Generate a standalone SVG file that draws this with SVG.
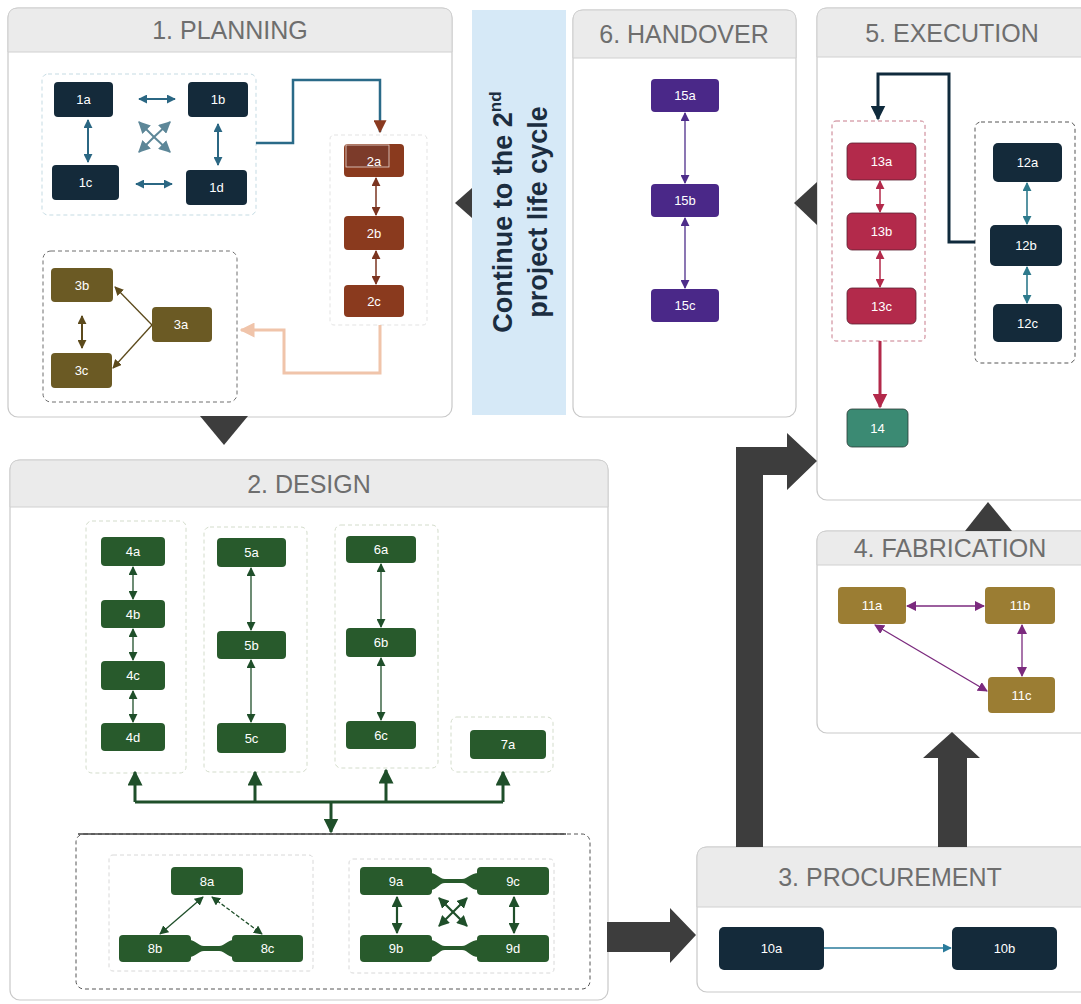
<svg xmlns="http://www.w3.org/2000/svg" width="1081" height="1004" viewBox="0 0 1081 1004">
<style>
.panel{fill:#fff;stroke:#c9c9c9;stroke-width:1.2}
.hdr{fill:#ebebeb;stroke:#d0d0d0;stroke-width:1}
.title{font-family:"Liberation Sans",Arial,sans-serif;font-size:25px;fill:#6e6e6e;text-anchor:middle;dominant-baseline:central}
.lbl{font-family:"Liberation Sans",Arial,sans-serif;font-size:13px;fill:#fff;text-anchor:middle;dominant-baseline:central}
.grp{fill:none;stroke-dasharray:4 3;stroke-width:1}
.big{fill:#3d3d3d}
.nv{fill:#142a3a}
.rust{fill:#8a3a1e}
.ol{fill:#6b5a24}
.gr{fill:#285a2c}
.gold{fill:#9b7d33}
.pu{fill:#4a2888}
.cr{fill:#b32a4b;stroke:#5a2030;stroke-width:0.8}
.tl{fill:#3b8a73;stroke:#2a3a36;stroke-width:0.8}
.ban{font-family:"Liberation Sans",Arial,sans-serif;font-size:27px;font-weight:bold;fill:#1b2d40;text-anchor:middle}
</style>
<defs>
<marker id="m1" viewBox="0 0 10 10" refX="9" refY="5" markerWidth="9" markerHeight="9" orient="auto-start-reverse" markerUnits="userSpaceOnUse"><path d="M0,0L10,5L0,10z" fill="#2b6783"/></marker>
<marker id="m1x" viewBox="0 0 10 10" refX="9" refY="5" markerWidth="12" markerHeight="12" orient="auto-start-reverse" markerUnits="userSpaceOnUse"><path d="M0,0L10,5L0,10z" fill="#5d8798"/></marker>
<marker id="mBr" viewBox="0 0 10 10" refX="9" refY="5" markerWidth="9" markerHeight="9" orient="auto-start-reverse" markerUnits="userSpaceOnUse"><path d="M0,0L10,5L0,10z" fill="#7b3420"/></marker>
<marker id="mBrBig" viewBox="0 0 10 10" refX="9" refY="5" markerWidth="13" markerHeight="13" orient="auto-start-reverse" markerUnits="userSpaceOnUse"><path d="M0,0L10,5L0,10z" fill="#8a3a20"/></marker>
<marker id="mPeach" viewBox="0 0 10 10" refX="9" refY="5" markerWidth="15" markerHeight="15" orient="auto-start-reverse" markerUnits="userSpaceOnUse"><path d="M0,0L10,5L0,10z" fill="#f0c4aa"/></marker>
<marker id="mOl" viewBox="0 0 10 10" refX="9" refY="5" markerWidth="9" markerHeight="9" orient="auto-start-reverse" markerUnits="userSpaceOnUse"><path d="M0,0L10,5L0,10z" fill="#5c4a1c"/></marker>
<marker id="mGr" viewBox="0 0 10 10" refX="9" refY="5" markerWidth="9" markerHeight="9" orient="auto-start-reverse" markerUnits="userSpaceOnUse"><path d="M0,0L10,5L0,10z" fill="#1f4f2a"/></marker>
<marker id="mGrBig" viewBox="0 0 10 10" refX="9" refY="5" markerWidth="15" markerHeight="15" orient="auto-start-reverse" markerUnits="userSpaceOnUse"><path d="M0,0L10,5L0,10z" fill="#1f4f2a"/></marker>
<marker id="mGrX" viewBox="0 0 10 10" refX="9" refY="5" markerWidth="11" markerHeight="11" orient="auto-start-reverse" markerUnits="userSpaceOnUse"><path d="M0,0L10,5L0,10z" fill="#1f4f2a"/></marker>
<marker id="mPu" viewBox="0 0 10 10" refX="9" refY="5" markerWidth="9" markerHeight="9" orient="auto-start-reverse" markerUnits="userSpaceOnUse"><path d="M0,0L10,5L0,10z" fill="#4e2d8a"/></marker>
<marker id="mCr" viewBox="0 0 10 10" refX="9" refY="5" markerWidth="9" markerHeight="9" orient="auto-start-reverse" markerUnits="userSpaceOnUse"><path d="M0,0L10,5L0,10z" fill="#b3294a"/></marker>
<marker id="mCrBig" viewBox="0 0 10 10" refX="9" refY="5" markerWidth="15" markerHeight="15" orient="auto-start-reverse" markerUnits="userSpaceOnUse"><path d="M0,0L10,5L0,10z" fill="#b3294a"/></marker>
<marker id="mNvBig" viewBox="0 0 10 10" refX="9" refY="5" markerWidth="15" markerHeight="15" orient="auto-start-reverse" markerUnits="userSpaceOnUse"><path d="M0,0L10,5L0,10z" fill="#0f2a3c"/></marker>
<marker id="mTl" viewBox="0 0 10 10" refX="9" refY="5" markerWidth="9" markerHeight="9" orient="auto-start-reverse" markerUnits="userSpaceOnUse"><path d="M0,0L10,5L0,10z" fill="#2e7a8c"/></marker>
<marker id="mMg" viewBox="0 0 10 10" refX="9" refY="5" markerWidth="10" markerHeight="10" orient="auto-start-reverse" markerUnits="userSpaceOnUse"><path d="M0,0L10,5L0,10z" fill="#7b2a7e"/></marker>
<marker id="mTb" viewBox="0 0 10 10" refX="9" refY="5" markerWidth="9" markerHeight="9" orient="auto-start-reverse" markerUnits="userSpaceOnUse"><path d="M0,0L10,5L0,10z" fill="#2a7b9b"/></marker>
</defs>
<rect width="1081" height="1004" fill="#fff"/>

<!-- Panels -->
<g id="panel-planning">
<rect class="panel" x="8" y="8" width="444" height="409" rx="10"/>
<path class="hdr" d="M8,52V18Q8,8 18,8H442Q452,8 452,18V52Z"/>
<text class="title" x="230" y="30">1. PLANNING</text>
</g>
<g id="panel-design">
<rect class="panel" x="10" y="460" width="598" height="540" rx="10"/>
<path class="hdr" d="M10,507V470Q10,460 20,460H598Q608,460 608,470V507Z"/>
<text class="title" x="309" y="484">2. DESIGN</text>
</g>
<g id="panel-handover">
<rect class="panel" x="573" y="10" width="223" height="407" rx="10"/>
<path class="hdr" d="M573,58V20Q573,10 583,10H786Q796,10 796,20V58Z"/>
<text class="title" x="684" y="34">6. HANDOVER</text>
</g>
<g id="panel-execution">
<rect class="panel" x="817" y="8" width="280" height="492" rx="10"/>
<path class="hdr" d="M817,57V18Q817,8 827,8H1097V57Z"/>
<text class="title" x="952" y="33">5. EXECUTION</text>
</g>
<g id="panel-fabrication">
<rect class="panel" x="817" y="531" width="280" height="202" rx="10"/>
<path class="hdr" d="M817,565V541Q817,531 827,531H1097V565Z"/>
<text class="title" x="950" y="548">4. FABRICATION</text>
</g>
<g id="panel-procurement">
<rect class="panel" x="697" y="847" width="400" height="145" rx="10"/>
<path class="hdr" d="M697,907V857Q697,847 707,847H1097V907Z"/>
<text class="title" x="890" y="877">3. PROCUREMENT</text>
</g>
<g id="banner">
<rect x="472" y="10" width="94" height="405" fill="#d6e9f7"/>
<text class="ban" transform="translate(512,212) rotate(-90)">Continue to the 2<tspan font-size="17" dy="-11">nd</tspan></text>
<text class="ban" transform="translate(547,212) rotate(-90)">project life cycle</text>
</g>

<!-- Group boxes -->
<g id="groups">
<rect class="grp" x="42" y="74" width="214" height="141" rx="6" stroke="#c5dbe3" fill="#fcfeff"/>
<rect class="grp" x="330" y="135" width="97" height="190" rx="4" stroke="#e3e3e3"/>
<rect class="grp" x="43" y="251" width="194" height="151" rx="8" stroke="#6e6e6e" fill="#fffefa"/>
<rect class="grp" x="86" y="521" width="100" height="252" rx="6" stroke="#d3dccb"/>
<rect class="grp" x="204" y="527" width="103" height="245" rx="6" stroke="#d3dccb"/>
<rect class="grp" x="335" y="525" width="103" height="243" rx="6" stroke="#d3dccb"/>
<rect class="grp" x="451" y="717" width="102" height="55" rx="6" stroke="#d3dccb"/>
<rect class="grp" x="76" y="834" width="514" height="155" rx="8" stroke="#555"/>
<line x1="78" y1="834" x2="566" y2="834" stroke="#444" stroke-width="1.3"/>
<rect class="grp" x="109" y="855" width="204" height="116" rx="4" stroke="#d8d8d8"/>
<rect class="grp" x="349" y="859" width="205" height="114" rx="4" stroke="#d8d8d8"/>
<rect class="grp" x="832" y="121" width="93" height="220" rx="4" stroke="#c77a8a"/>
<rect class="grp" x="975" y="122" width="100" height="241" rx="6" stroke="#555"/>
</g>

<!-- Big flow arrows -->
<g id="flow-arrows">
<polygon class="big" points="200,416 248,416 224,445"/>
<polygon class="big" points="472,188 472,218 455,203"/>
<polygon class="big" points="817,182 817,225 794,203"/>
<polygon class="big" points="965,531 1012,531 988,502"/>
<polygon class="big" points="938,847 967,847 967,758 980,758 952,732 923,758 938,758"/>
<polygon class="big" points="736,847 763,847 763,475 787,475 787,490 817,461 787,433 787,447 736,447"/>
<polygon class="big" points="607,922 670,922 670,908 696,935 670,963 670,952 607,952"/>
</g>

<!-- Connectors -->
<g id="connectors" fill="none">
<g stroke="#2b6783" stroke-width="2">
<line x1="139" y1="99" x2="175" y2="99" marker-start="url(#m1)" marker-end="url(#m1)"/>
<line x1="136" y1="184" x2="172" y2="184" marker-start="url(#m1)" marker-end="url(#m1)"/>
<line x1="88" y1="120" x2="88" y2="162" marker-start="url(#m1)" marker-end="url(#m1)"/>
<line x1="218" y1="124" x2="218" y2="165" marker-start="url(#m1)" marker-end="url(#m1)"/>
</g>
<g stroke="#5d8798" stroke-width="2">
<line x1="154" y1="137" x2="139" y2="122" marker-end="url(#m1x)"/>
<line x1="154" y1="137" x2="170" y2="122" marker-end="url(#m1x)"/>
<line x1="154" y1="137" x2="139" y2="152" marker-end="url(#m1x)"/>
<line x1="154" y1="137" x2="170" y2="152" marker-end="url(#m1x)"/>
</g>
<path d="M256,143H293V80H380V132" stroke="#2a6a88" stroke-width="2.5" marker-end="url(#mBrBig)"/>
<g stroke="#7b3420" stroke-width="1.5">
<line x1="376" y1="178" x2="376" y2="215" marker-start="url(#mBr)" marker-end="url(#mBr)"/>
<line x1="376" y1="251" x2="376" y2="284" marker-start="url(#mBr)" marker-end="url(#mBr)"/>
</g>
<path d="M380,325V373H284V330H241" stroke="#f0c4aa" stroke-width="3" marker-end="url(#mPeach)"/>
<g stroke="#5c4a1c" stroke-width="1.3">
<line x1="152" y1="325" x2="115" y2="287" marker-end="url(#mOl)"/>
<line x1="152" y1="325" x2="113" y2="368" marker-end="url(#mOl)"/>
<line x1="82" y1="316" x2="82" y2="348" stroke-width="2" marker-start="url(#mOl)" marker-end="url(#mOl)"/>
</g>
<g stroke="#1f4f2a" stroke-width="1.3">
<line x1="133" y1="567" x2="133" y2="599" marker-start="url(#mGr)" marker-end="url(#mGr)"/>
<line x1="133" y1="629" x2="133" y2="660" marker-start="url(#mGr)" marker-end="url(#mGr)"/>
<line x1="133" y1="691" x2="133" y2="722" marker-start="url(#mGr)" marker-end="url(#mGr)"/>
<line x1="251" y1="568" x2="251" y2="630" marker-start="url(#mGr)" marker-end="url(#mGr)"/>
<line x1="251" y1="660" x2="251" y2="722" marker-start="url(#mGr)" marker-end="url(#mGr)"/>
<line x1="381" y1="564" x2="381" y2="627" marker-start="url(#mGr)" marker-end="url(#mGr)"/>
<line x1="381" y1="658" x2="381" y2="720" marker-start="url(#mGr)" marker-end="url(#mGr)"/>
</g>
<g stroke="#1f4f2a" stroke-width="3">
<path d="M135,802H503"/>
<line x1="135" y1="802" x2="135" y2="772" marker-end="url(#mGrBig)"/>
<line x1="255" y1="802" x2="255" y2="772" marker-end="url(#mGrBig)"/>
<line x1="386" y1="802" x2="386" y2="770" marker-end="url(#mGrBig)"/>
<line x1="503" y1="802" x2="503" y2="772" marker-end="url(#mGrBig)"/>
<line x1="331" y1="802" x2="331" y2="832" marker-end="url(#mGrBig)"/>
</g>
<g stroke="#1f4f2a" stroke-width="1.3">
<line x1="203" y1="897" x2="160" y2="934" marker-start="url(#mGr)" marker-end="url(#mGr)"/>
<line x1="212" y1="897" x2="262" y2="934" stroke-dasharray="4 2" marker-start="url(#mGr)" marker-end="url(#mGr)"/>
</g>
<g stroke="#1f4f2a" stroke-width="2.2">
<line x1="397" y1="897" x2="397" y2="933" marker-start="url(#mGrX)" marker-end="url(#mGrX)"/>
<line x1="514" y1="897" x2="514" y2="933" marker-start="url(#mGrX)" marker-end="url(#mGrX)"/>
<line x1="453" y1="912" x2="439" y2="898" marker-end="url(#mGrX)"/>
<line x1="453" y1="912" x2="467" y2="898" marker-end="url(#mGrX)"/>
<line x1="453" y1="912" x2="439" y2="926" marker-end="url(#mGrX)"/>
<line x1="453" y1="912" x2="467" y2="926" marker-end="url(#mGrX)"/>
</g>
<g fill="#285a2c" stroke="none">
<path d="M189,940C196,940 198,946 204,946L219,946C225,946 227,940 234,940L234,957C227,957 225,951 219,951L204,951C198,951 196,957 189,957Z"/>
<path d="M430,873C437,873 439,879 445,879L462,879C468,879 470,873 479,873L479,890C470,890 468,883 462,883L445,883C439,883 437,890 430,890Z"/>
<path d="M430,940C437,940 439,946 445,946L462,946C468,946 470,940 479,940L479,957C470,957 468,950 462,950L445,950C439,950 437,957 430,957Z"/>
</g>
<line x1="824" y1="948" x2="951" y2="948" stroke="#2a7b9b" stroke-width="1.3" marker-end="url(#mTb)"/>
<g stroke="#7b2a7e" stroke-width="1.3">
<line x1="907" y1="606" x2="984" y2="606" marker-start="url(#mMg)" marker-end="url(#mMg)"/>
<line x1="1022" y1="625" x2="1022" y2="676" marker-start="url(#mMg)" marker-end="url(#mMg)"/>
<line x1="875" y1="625" x2="987" y2="691" marker-start="url(#mMg)" marker-end="url(#mMg)"/>
</g>
<g stroke="#4e2d8a" stroke-width="1.3">
<line x1="685" y1="113" x2="685" y2="183" marker-start="url(#mPu)" marker-end="url(#mPu)"/>
<line x1="685" y1="218" x2="685" y2="288" marker-start="url(#mPu)" marker-end="url(#mPu)"/>
</g>
<g stroke="#b3294a" stroke-width="1.5">
<line x1="880" y1="181" x2="880" y2="212" marker-start="url(#mCr)" marker-end="url(#mCr)"/>
<line x1="880" y1="251" x2="880" y2="287" marker-start="url(#mCr)" marker-end="url(#mCr)"/>
</g>
<line x1="880" y1="341" x2="880" y2="407" stroke="#b3294a" stroke-width="3" marker-end="url(#mCrBig)"/>
<g stroke="#2e7a8c" stroke-width="1.6">
<line x1="1027" y1="183" x2="1027" y2="224" marker-start="url(#mTl)" marker-end="url(#mTl)"/>
<line x1="1027" y1="267" x2="1027" y2="303" marker-start="url(#mTl)" marker-end="url(#mTl)"/>
</g>
<path d="M975,242H949V74H878V119" stroke="#0f2a3c" stroke-width="3" marker-end="url(#mNvBig)"/>
</g>

<!-- Nodes -->
<g id="n1a"><rect class="nv" x="54" y="82" width="59" height="35" rx="4"/><text class="lbl" x="83.5" y="99.5" font-size="14">1a</text></g>
<g id="n1b"><rect class="nv" x="188" y="82" width="60" height="35" rx="4"/><text class="lbl" x="218" y="99.5" font-size="14">1b</text></g>
<g id="n1c"><rect class="nv" x="52" y="165" width="67" height="35" rx="4"/><text class="lbl" x="85.5" y="182.5" font-size="14">1c</text></g>
<g id="n1d"><rect class="nv" x="186" y="170" width="61" height="35" rx="4"/><text class="lbl" x="216.5" y="187.5" font-size="14">1d</text></g>
<g id="n2a"><rect class="rust" x="344" y="144" width="60" height="33" rx="4"/><rect x="346" y="145" width="43" height="22" fill="#7c3b2a" stroke="#e8d8d0" stroke-width="0.8"/><text class="lbl" x="374" y="161" font-size="14">2a</text></g>
<g id="n2b"><rect class="rust" x="344" y="216" width="60" height="34" rx="4"/><text class="lbl" x="374" y="233" font-size="14">2b</text></g>
<g id="n2c"><rect class="rust" x="344" y="285" width="60" height="32" rx="4"/><text class="lbl" x="374" y="301" font-size="14">2c</text></g>
<g id="n3a"><rect class="ol" x="152" y="307" width="60" height="35" rx="4"/><text class="lbl" x="181" y="324.5" font-size="14">3a</text></g>
<g id="n3b"><rect class="ol" x="51" y="268" width="62" height="34" rx="4"/><text class="lbl" x="82" y="285" font-size="14">3b</text></g>
<g id="n3c"><rect class="ol" x="51" y="353" width="61" height="35" rx="4"/><text class="lbl" x="81.5" y="370.5" font-size="14">3c</text></g>
<g id="n4a"><rect class="gr" x="101" y="537" width="64" height="29" rx="4"/><text class="lbl" x="133" y="551.5">4a</text></g>
<g id="n4b"><rect class="gr" x="101" y="600" width="64" height="28" rx="4"/><text class="lbl" x="133" y="614">4b</text></g>
<g id="n4c"><rect class="gr" x="101" y="661" width="64" height="29" rx="4"/><text class="lbl" x="133" y="675.5">4c</text></g>
<g id="n4d"><rect class="gr" x="101" y="723" width="64" height="28" rx="4"/><text class="lbl" x="133" y="737">4d</text></g>
<g id="n5a"><rect class="gr" x="217" y="538" width="69" height="29" rx="4"/><text class="lbl" x="251.5" y="552.5">5a</text></g>
<g id="n5b"><rect class="gr" x="217" y="631" width="69" height="28" rx="4"/><text class="lbl" x="251.5" y="645">5b</text></g>
<g id="n5c"><rect class="gr" x="217" y="723" width="69" height="30" rx="4"/><text class="lbl" x="251.5" y="738">5c</text></g>
<g id="n6a"><rect class="gr" x="346" y="536" width="70" height="27" rx="4"/><text class="lbl" x="381" y="549.5">6a</text></g>
<g id="n6b"><rect class="gr" x="346" y="628" width="70" height="29" rx="4"/><text class="lbl" x="381" y="642.5">6b</text></g>
<g id="n6c"><rect class="gr" x="346" y="721" width="70" height="28" rx="4"/><text class="lbl" x="381" y="735">6c</text></g>
<g id="n7a"><rect class="gr" x="470" y="730" width="76" height="29" rx="4"/><text class="lbl" x="508" y="744.5">7a</text></g>
<g id="n8a"><rect class="gr" x="171" y="867" width="72" height="28" rx="4"/><text class="lbl" x="207" y="881">8a</text></g>
<g id="n8b"><rect class="gr" x="119" y="935" width="72" height="27" rx="4"/><text class="lbl" x="155" y="948.5">8b</text></g>
<g id="n8c"><rect class="gr" x="232" y="935" width="71" height="27" rx="4"/><text class="lbl" x="267.5" y="948.5">8c</text></g>
<g id="n9a"><rect class="gr" x="360" y="867" width="72" height="28" rx="4"/><text class="lbl" x="396" y="881">9a</text></g>
<g id="n9b"><rect class="gr" x="360" y="935" width="72" height="27" rx="4"/><text class="lbl" x="396" y="948.5">9b</text></g>
<g id="n9c"><rect class="gr" x="477" y="867" width="72" height="28" rx="4"/><text class="lbl" x="513" y="881">9c</text></g>
<g id="n9d"><rect class="gr" x="477" y="935" width="72" height="27" rx="4"/><text class="lbl" x="513" y="948.5">9d</text></g>
<g id="n10a"><rect class="nv" x="719" y="927" width="105" height="43" rx="5" fill="#0f2a3c"/><text class="lbl" x="771.5" y="948.5">10a</text></g>
<g id="n10b"><rect class="nv" x="952" y="927" width="105" height="43" rx="5" fill="#0f2a3c"/><text class="lbl" x="1004.5" y="948.5">10b</text></g>
<g id="n11a"><rect class="gold" x="838" y="587" width="68" height="37" rx="4"/><text class="lbl" x="872" y="605.5" fill="#f6eed8">11a</text></g>
<g id="n11b"><rect class="gold" x="985" y="587" width="70" height="37" rx="4"/><text class="lbl" x="1020" y="605.5" fill="#f6eed8">11b</text></g>
<g id="n11c"><rect class="gold" x="988" y="677" width="67" height="36" rx="4"/><text class="lbl" x="1021.5" y="695" fill="#f6eed8">11c</text></g>
<g id="n12a"><rect class="nv" x="993" y="143" width="69" height="39" rx="5"/><text class="lbl" x="1027.5" y="162.5" font-size="12">12a</text></g>
<g id="n12b"><rect class="nv" x="990" y="225" width="72" height="41" rx="5"/><text class="lbl" x="1026" y="245.5" font-size="12">12b</text></g>
<g id="n12c"><rect class="nv" x="993" y="304" width="69" height="38" rx="5"/><text class="lbl" x="1027.5" y="323" font-size="12">12c</text></g>
<g id="n13a"><rect class="cr" x="847" y="143" width="69" height="37" rx="5"/><text class="lbl" x="881.5" y="161.5" font-size="12">13a</text></g>
<g id="n13b"><rect class="cr" x="847" y="213" width="69" height="37" rx="5"/><text class="lbl" x="881.5" y="231.5" font-size="12">13b</text></g>
<g id="n13c"><rect class="cr" x="847" y="288" width="69" height="36" rx="5"/><text class="lbl" x="881.5" y="306" font-size="12">13c</text></g>
<g id="n14"><rect class="tl" x="847" y="409" width="61" height="38" rx="5"/><text class="lbl" x="877.5" y="428" font-size="12">14</text></g>
<g id="n15a"><rect class="pu" x="651" y="79" width="68" height="33" rx="4"/><text class="lbl" x="685" y="95.5" font-size="12" fill="#ece4f8">15a</text></g>
<g id="n15b"><rect class="pu" x="651" y="184" width="68" height="33" rx="4"/><text class="lbl" x="685" y="200.5" font-size="12" fill="#ece4f8">15b</text></g>
<g id="n15c"><rect class="pu" x="651" y="289" width="68" height="33" rx="4"/><text class="lbl" x="685" y="305.5" font-size="12" fill="#ece4f8">15c</text></g>
</svg>
